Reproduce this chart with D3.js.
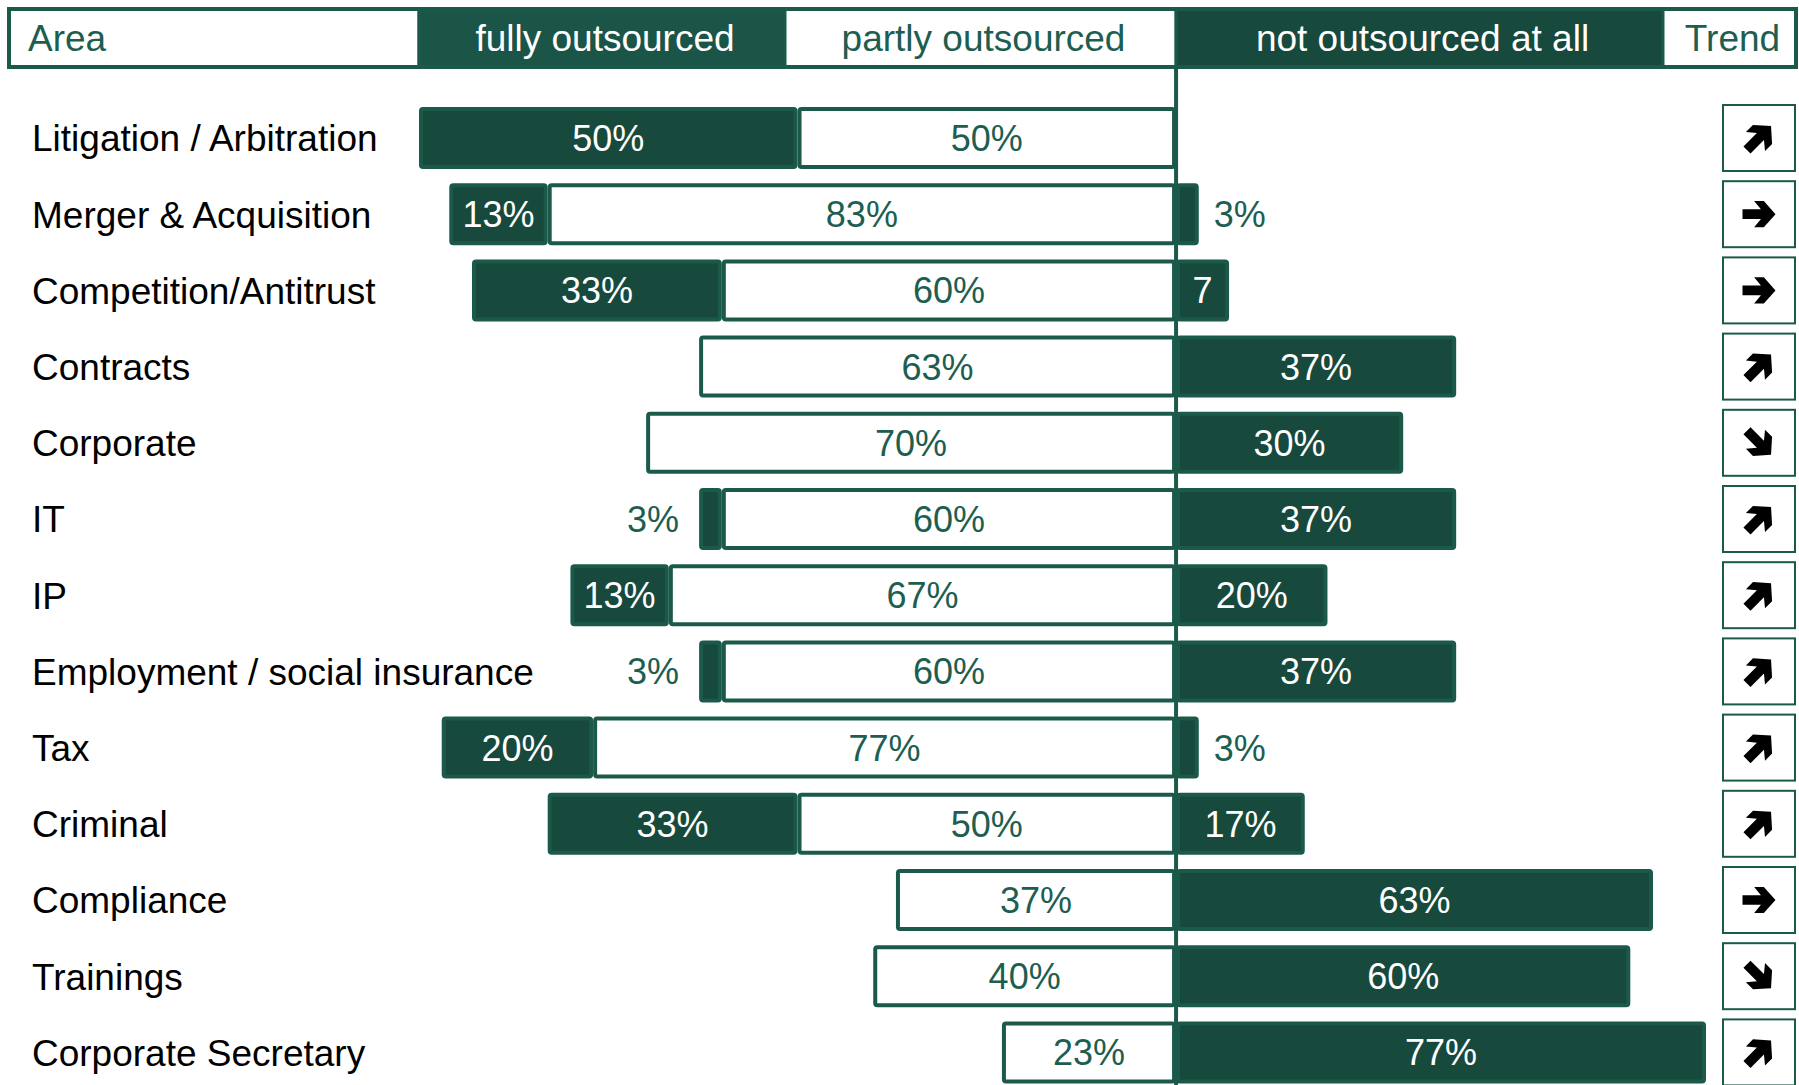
<!DOCTYPE html>
<html><head><meta charset="utf-8">
<script src="https://cdn.jsdelivr.net/npm/d3@7"></script>
<style>
body{margin:0;background:#fff;}
svg{display:block;font-family:"Liberation Sans",Arial,sans-serif;}
</style>
</head><body>
<svg id="c" width="1799" height="1085"></svg>
<script>
const categories = ["Litigation / Arbitration","Merger & Acquisition","Competition/Antitrust","Contracts","Corporate","IT","IP","Employment / social insurance","Tax","Criminal","Compliance","Trainings","Corporate Secretary"];
const fullyOutsourced = [50,13,33,0,0,3,13,3,20,33,0,0,0];
const partlyOutsourced = [50,83,60,63,70,60,67,60,77,50,37,40,23];
const notOutsourced = [0,3,7,37,30,37,20,37,3,17,63,60,77];
const trend = ["up","right","right","up","down","up","up","up","up","up","right","down","up"];
const headers = ["Area","fully outsourced","partly outsourced","not outsourced at all","Trend"];

const DARK = "#17493d", BORDER = "#1b5a4b", HEAD_FULL = "#1a5548", GREEN_TXT = "#1d5e50";
const svg = d3.select("#c");

const x = d3.scaleLinear().domain([-100, 70]).range([419, 1706]).clamp(true);
const y = d3.scalePoint().domain(categories).range([138, 1052.4]);
const barH = 62, sw = 4;

// header
const headerCells = [
  {t: headers[0], x0: 9, x1: x(-100), fill: "#fff", col: GREEN_TXT, anchor: "start"},
  {t: headers[1], x0: x(-100), x1: 785, fill: HEAD_FULL, col: "#fff"},
  {t: headers[2], x0: 785, x1: x(0), fill: "#fff", col: GREEN_TXT},
  {t: headers[3], x0: x(0), x1: 1663, fill: DARK, col: "#fff"},
  {t: headers[4], x0: 1663, x1: 1796, fill: "#fff", col: GREEN_TXT}
];
const hY0 = 9, hY1 = 67;
const hg = svg.append("g");
hg.selectAll("rect.hc").data(headerCells).join("rect")
  .attr("x", d => d.x0).attr("y", hY0).attr("width", d => d.x1 - d.x0).attr("height", hY1 - hY0)
  .attr("fill", d => d.fill).attr("stroke", BORDER).attr("stroke-width", 3);
hg.append("rect").attr("x", 9).attr("y", hY0).attr("width", 1796 - 9).attr("height", hY1 - hY0)
  .attr("fill", "none").attr("stroke", BORDER).attr("stroke-width", 4);
hg.selectAll("text").data(headerCells).join("text")
  .attr("x", d => d.anchor === "start" ? d.x0 + 19 : (d.x0 + d.x1) / 2 + 3)
  .attr("y", (hY0 + hY1) / 2).attr("dy", "0.36em")
  .attr("text-anchor", d => d.anchor || "middle")
  .attr("font-size", 37).attr("fill", d => d.col).text(d => d.t);

// rows
const rows = categories.map((c, i) => {
  const f = fullyOutsourced[i], p = partlyOutsourced[i], n = notOutsourced[i];
  return {c, i, segs: [
    {v: f, s: -(f + p), e: -p, dark: true, side: "left"},
    {v: p, s: -p, e: 0, dark: false, side: "mid"},
    {v: n, s: 0, e: n, dark: true, side: "right"}
  ].filter(d => d.v > 0)};
});

const defs = svg.append("defs");
const rg = svg.selectAll("g.row").data(rows).join("g").attr("class", "row");

rg.append("text").attr("x", 32).attr("y", d => y(d.c)).attr("dy", "0.36em")
  .attr("font-size", 37).attr("fill", "#000").text(d => d.c);

rg.each(function(r) {
  const g = d3.select(this);
  const cy = y(r.c);
  r.segs.forEach((s, k) => {
    const x0 = x(s.s), x1 = x(s.e);
    g.append("rect").attr("x", x0 + sw / 2).attr("y", cy - barH / 2 + sw / 2)
      .attr("width", x1 - x0 - sw).attr("height", barH - sw).attr("rx", 2)
      .attr("fill", s.dark ? DARK : "#fff").attr("stroke", BORDER).attr("stroke-width", sw);
    const id = `clip-${r.i}-${k}`;
    defs.append("clipPath").attr("id", id).append("rect")
      .attr("x", x0 + sw).attr("y", cy - barH / 2).attr("width", Math.max(0, x1 - x0 - 2 * sw)).attr("height", barH);
    const t = g.append("text").attr("y", cy).attr("dy", "0.36em").attr("font-size", 36).text(s.v + "%");
    if (s.v <= 3) {
      t.attr("fill", GREEN_TXT);
      if (s.side === "left") t.attr("x", x0 - 20).attr("text-anchor", "end");
      else t.attr("x", x1 + 15).attr("text-anchor", "start");
    } else {
      t.attr("fill", s.dark ? "#fff" : GREEN_TXT);
      const w = t.node().getComputedTextLength();
      if (w > x1 - x0 - 10) {
        // label wraps: only the number stays visible in the narrow box
        t.text(String(s.v)).attr("clip-path", `url(#${id})`);
      }
      t.attr("x", (x0 + x1) / 2).attr("text-anchor", "middle");
    }
  });
});

// center line
svg.append("line").attr("x1", x(0)).attr("x2", x(0)).attr("y1", hY1).attr("y2", 1085)
  .attr("stroke", BORDER).attr("stroke-width", 4);

// trend boxes
const arrowPath = "M-17,-5 L2,-5 L-5,-13.5 L5,-13.5 L17,0 L5,13.5 L-5,13.5 L2,5 L-17,5 Z";
const rot = {up: -45, right: 0, down: 45};
const tg = svg.selectAll("g.trend").data(categories).join("g").attr("class", "trend");
tg.append("rect").attr("x", 1723).attr("y", d => y(d) - 33).attr("width", 72).attr("height", 66)
  .attr("fill", "#fff").attr("stroke", BORDER).attr("stroke-width", 2);
tg.append("path").attr("d", arrowPath).attr("fill", "#000")
  .attr("transform", (d, i) => `translate(${1759},${y(d)}) rotate(${rot[trend[i]]}) scale(${trend[i] === "right" ? 0.97 : 1.0})`);
</script>
</body></html>
